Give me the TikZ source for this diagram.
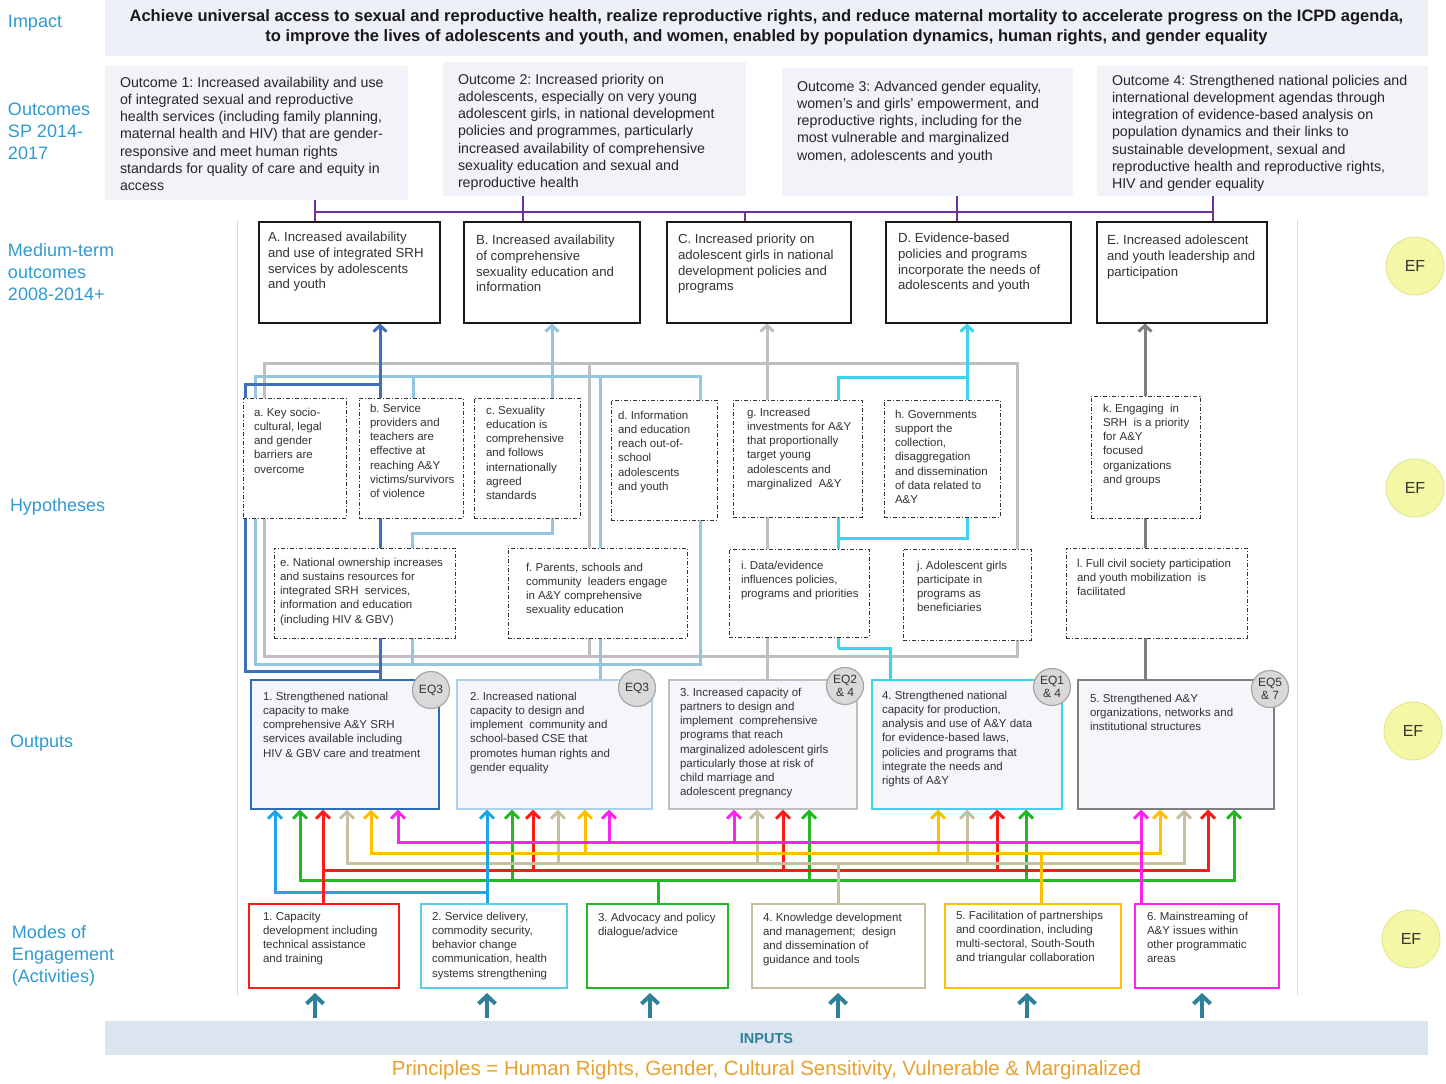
\documentclass[tikz,border=0pt]{standalone}
\usepackage{fontspec}
\setmainfont{Liberation Sans}
\usetikzlibrary{arrows.meta}
\definecolor{lbl}{HTML}{2E9AD0}
\definecolor{ibg}{HTML}{EEF0F8}
\definecolor{obg}{HTML}{F2F3F8}
\definecolor{pbg}{HTML}{F5F6FA}
\definecolor{txt}{HTML}{333333}
\definecolor{purp}{HTML}{7030A0}
\definecolor{cdb}{HTML}{3F6FB8}
\definecolor{clb}{HTML}{92C6E0}
\definecolor{cgr}{HTML}{BFBFBF}
\definecolor{ccy}{HTML}{3DD3EC}
\definecolor{cdg}{HTML}{7F7F7F}
\definecolor{oonec}{HTML}{2F6EB5}
\definecolor{otwoc}{HTML}{A9D2E8}
\definecolor{othreec}{HTML}{BFBFBF}
\definecolor{ofourc}{HTML}{3DD3EC}
\definecolor{ofivec}{HTML}{7F7F7F}
\definecolor{mblue}{HTML}{1EA5E5}
\definecolor{mgreen}{HTML}{22B822}
\definecolor{mred}{HTML}{FF1A1A}
\definecolor{mtan}{HTML}{C8BFA3}
\definecolor{mgold}{HTML}{FFC000}
\definecolor{mmag}{HTML}{FF22EE}
\definecolor{atwoc}{HTML}{5CCDE8}
\definecolor{tealc}{HTML}{2F8098}
\definecolor{inbg}{HTML}{DAE5EF}
\definecolor{princ}{HTML}{E8A030}
\definecolor{eff}{HTML}{F4F8A6}
\definecolor{efd}{HTML}{E2E890}
\definecolor{eqf}{HTML}{D9D9D9}
\definecolor{eqd}{HTML}{A6A6A6}
\newcommand\bx[6]{\node[#1, anchor=north west, minimum width={#5-#3}, minimum height={#6-#4}] (#2) at (#3,#4) {};}
\frenchspacing
\begin{document}
\frenchspacing
\begin{tikzpicture}[x=1pt,y=-1pt,
  every node/.style={inner sep=0pt, outer sep=0pt},
  lab/.style={font=\fontsize{18}{22}\selectfont, text=lbl, align=left, anchor=north west},
  outbox/.style={fill=obg, draw=none},
  otxt/.style={font=\fontsize{14.2}{17.2}\selectfont, text=black!85, align=left, anchor=north west},
  medbox/.style={draw=black!90, line width=2pt, fill=white},
  mtxt/.style={font=\fontsize{13.2}{15.8}\selectfont, text=txt, align=left, anchor=north west},
  hypbox/.style={draw=black!80, line width=0.9pt, dash pattern=on 4pt off 2pt on 1pt off 2pt, fill=white},
  htxt/.style={font=\fontsize{11.5}{14.2}\selectfont, text=txt, align=left, anchor=north west},
  outpbox/.style={line width=2pt, fill=pbg},
  actbox/.style={line width=2pt, fill=white},
  eq/.style={circle, fill=eqf, draw=eqd, line width=1.2pt, minimum size=37pt, font=\fontsize{12}{12.5}\selectfont, align=center, text=txt},
  ef/.style={circle, fill=eff, draw=efd, line width=1pt, minimum size=58pt, font=\fontsize{16}{16}\selectfont, text=txt},
  conn/.style={line width=3pt},
  arr/.style={-{Straight Barb[length=6pt,width=13pt]}},
  barr/.style={-{Straight Barb[length=7pt,width=14pt]}},
]
\useasboundingbox (0,0) rectangle (1446,1084);

% ---------- left labels
\node[lab] (lImpact) at (8,15) {Impact};
\node[lab] (lOut) at (8,103) {Outcomes\\SP 2014-\\2017};
\node[lab] (lMed) at (8,243) {Medium-term\\outcomes\\2008-2014+};
\node[lab] (lHyp) at (10,498) {Hypotheses};
\node[lab] (lOutp) at (10,735) {Outputs};
\node[lab] (lAct) at (12,925) {Modes of\\Engagement\\(Activities)};

% ---------- impact
\bx{fill=ibg}{imp}{105}{0}{1428}{56}
\node[font=\bfseries\fontsize{16.5}{20}\selectfont, align=center, anchor=north, text=black!90] (impT) at (766.5,10)
 {Achieve universal access to sexual and reproductive health, realize reproductive rights, and reduce maternal mortality to accelerate progress on the ICPD agenda,\\
  to improve the lives of adolescents and youth, and women, enabled by population dynamics, human rights, and gender equality};

% ---------- outcomes
\bx{outbox}{O1}{105}{66}{408}{200}
\bx{outbox}{O2}{443}{62}{746}{196}
\bx{outbox}{O3}{782}{68}{1073}{196}
\bx{outbox}{O4}{1097}{66}{1428}{196}
\node[otxt] (O1T) at (120,77) {Outcome 1: Increased availability and use\\of integrated sexual and reproductive\\health services (including family planning,\\maternal health and HIV) that are gender-\\responsive and meet human rights\\standards for quality of care and equity in\\access};
\node[otxt] (O2T) at (458,74) {Outcome 2: Increased priority on\\adolescents, especially on very young\\adolescent girls, in national development\\policies and programmes, particularly\\increased availability of comprehensive\\sexuality education and sexual and\\reproductive health};
\node[otxt] (O3T) at (797,81) {Outcome 3: Advanced gender equality,\\women’s and girls’ empowerment, and\\reproductive rights, including for the\\most vulnerable and marginalized\\women, adolescents and youth};
\node[otxt] (O4T) at (1112,75) {Outcome 4: Strengthened national policies and\\international development agendas through\\integration of evidence-based analysis on\\population dynamics and their links to\\sustainable development, sexual and\\reproductive health and reproductive rights,\\HIV and gender equality};

% ---------- panel frame
\draw[black!15, line width=0.8pt] (237,220) -- (237,995);
\draw[black!15, line width=0.8pt] (1297,220) -- (1297,995);

% ---------- medium-term boxes
\bx{medbox}{A}{259}{222}{440}{323}
\bx{medbox}{B}{464}{222}{640}{323}
\bx{medbox}{C}{667}{222}{851}{323}
\bx{medbox}{D}{886}{222}{1071}{323}
\bx{medbox}{E}{1097}{222}{1267}{323}

% purple connectors
\draw[purp, line width=2.5pt] (315,212) -- (1213,212);
\draw[purp, line width=2.5pt] (315,200) -- (315,222);
\draw[purp, line width=2.5pt] (523,196) -- (523,222);
\draw[purp, line width=2.5pt] (957,196) -- (957,222);
\draw[purp, line width=2.5pt] (1213,196) -- (1213,222);
\draw[purp, line width=2.5pt] (745,212) -- (745,222);

% ---------- hypothesis connectors
% grey -> C
\draw[conn,cgr] (264,363) rectangle (1017,656);
\draw[conn,cgr] (589,363) -- (589,656);
% light blue -> B
\draw[conn,clb] (255,376) rectangle (700,664);
\draw[conn,clb] (413,376) -- (413,398);
\draw[conn,clb] (600,376) -- (600,680);
\draw[conn,clb] (412,664) -- (412,630);
\draw[conn,clb] (412,556) -- (412,533) -- (552,533) -- (552,510);
% dark blue -> A
\draw[conn,cdb] (380,671) -- (245,671) -- (245,384) -- (380,384);
% cyan -> D
\draw[conn,ccy] (838,648) -- (838,377) -- (967,377);
\draw[conn,ccy] (967,510) -- (967,538) -- (838,538);
\draw[conn,ccy] (838,648) -- (890,648) -- (890,680);

% arrows to medium-term
\draw[conn,cdb,arr] (380,680) -- (380,323.5);
\draw[conn,clb,arr] (552,405) -- (552,323.5);
\draw[conn,cgr,arr] (767,680) -- (767,323.5);
\draw[conn,ccy,arr] (967,405) -- (967,323.5);
\draw[conn,cdg,arr] (1145,680) -- (1145,323.5);

% medium boxes with text
\bx{medbox}{A2}{259}{222}{440}{323}
\node[mtxt] (AT) at (268,232) {A. Increased availability\\and use of integrated SRH\\services by adolescents\\and youth};
\bx{medbox}{B2}{464}{222}{640}{323}
\node[mtxt] (BT) at (476,235) {B. Increased availability\\of comprehensive\\sexuality education and\\information};
\bx{medbox}{C2}{667}{222}{851}{323}
\node[mtxt] (CT) at (678,234) {C. Increased priority on\\adolescent girls in national\\development policies and\\programs};
\bx{medbox}{D2}{886}{222}{1071}{323}
\node[mtxt] (DT) at (898,233) {D. Evidence-based\\policies and programs\\incorporate the needs of\\adolescents and youth};
\bx{medbox}{E2}{1097}{222}{1267}{323}
\node[mtxt] (ET) at (1107,235) {E. Increased adolescent\\and youth leadership and\\participation};

% ---------- hypothesis boxes
\bx{hypbox}{ha}{243}{398}{346}{518}
\node[htxt] (haT) at (254,408) {a. Key socio-\\cultural, legal\\and gender\\barriers are\\overcome};
\bx{hypbox}{hb}{359}{398}{463}{518}
\node[htxt] (hbT) at (370,404) {b. Service\\providers and\\teachers are\\effective at\\reaching A\&Y\\victims/survivors\\of violence};
\bx{hypbox}{hc}{474}{398}{580}{518}
\node[htxt] (hcT) at (486,406) {c. Sexuality\\education is\\comprehensive\\and follows\\internationally\\agreed\\standards};
\bx{hypbox}{hd}{611}{400}{717}{520}
\node[htxt] (hdT) at (618,411) {d. Information\\and education\\reach out-of-\\school\\adolescents\\and youth};
\bx{hypbox}{hg}{733}{400}{862}{517}
\node[htxt] (hgT) at (747,408) {g. Increased\\investments for A\&Y\\that proportionally\\target young\\adolescents and\\marginalized\ \ A\&Y};
\bx{hypbox}{hh}{884}{400}{1000}{517}
\node[htxt] (hhT) at (895,410) {h. Governments\\support the\\collection,\\disaggregation\\and dissemination\\of data related to\\A\&Y};
\bx{hypbox}{hk}{1091}{396}{1200}{518}
\node[htxt] (hkT) at (1103,404) {k. Engaging\ \ in\\SRH\ \ is a priority\\for A\&Y\\focused\\organizations\\and groups};
\bx{hypbox}{he}{274}{548}{455}{638}
\node[htxt] (heT) at (280,558) {e. National ownership increases\\and sustains resources for\\integrated SRH\ \ services,\\information and education\\(including HIV \& GBV)};
\bx{hypbox}{hf}{508}{548}{687}{638}
\node[htxt] (hfT) at (526,563) {f. Parents, schools and\\community\ \ leaders engage\\in A\&Y comprehensive\\sexuality education};
\bx{hypbox}{hi}{729}{549}{869}{637}
\node[htxt] (hiT) at (741,561) {i. Data/evidence\\influences policies,\\programs and priorities};
\bx{hypbox}{hj}{903}{549}{1031}{640}
\node[htxt] (hjT) at (917,561) {j. Adolescent girls\\participate in\\programs as\\beneficiaries};
\bx{hypbox}{hl}{1066}{548}{1247}{638}
\node[htxt] (hlT) at (1077,559) {l. Full civil society participation\\and youth mobilization\ \ is\\facilitated};

% ---------- activity -> output connectors
\draw[conn,mblue,barr] (487,892) -- (275,892) -- (275,809.5);
\draw[conn,mgreen,{Straight Barb[length=7pt,width=14pt]}-{Straight Barb[length=7pt,width=14pt]}] (300,809.5) -- (300,880) -- (1234,880) -- (1234,809.5);
\foreach \x in {512,809,1026} \draw[conn,mgreen,barr] (\x,881.5) -- (\x,809.5);
\draw[conn,mgreen] (658,904) -- (658,878.5);
\draw[conn,mred,barr] (323,870) -- (1208,870) -- (1208,809.5);
\foreach \x in {533,783,997} \draw[conn,mred,barr] (\x,871.5) -- (\x,809.5);
\draw[conn,mtan,{Straight Barb[length=7pt,width=14pt]}-{Straight Barb[length=7pt,width=14pt]}] (347,809.5) -- (347,863) -- (1184,863) -- (1184,809.5);
\foreach \x in {558,757,967} \draw[conn,mtan,barr] (\x,864.5) -- (\x,809.5);
\draw[conn,mtan] (838,904) -- (838,861.5);
\draw[conn,mgold,{Straight Barb[length=7pt,width=14pt]}-{Straight Barb[length=7pt,width=14pt]}] (371,809.5) -- (371,853) -- (1160,853) -- (1160,809.5);
\foreach \x in {585,938} \draw[conn,mgold,barr] (\x,854.5) -- (\x,809.5);
\draw[conn,mgold] (1041,904) -- (1041,851.5);
\draw[conn,mmag,barr] (1141,842) -- (398,842) -- (398,809.5);
\foreach \x in {609,734} \draw[conn,mmag,barr] (\x,843.5) -- (\x,809.5);
\draw[conn,mmag,barr] (1141,904) -- (1141,809.5);
\draw[conn,mred,barr] (323,904) -- (323,809.5);
\draw[conn,mblue,barr] (487,904) -- (487,809.5);

% ---------- output boxes
\bx{outpbox,draw=oonec}{p1}{251}{680}{439}{809}
\node[htxt] (p1T) at (263,692) {1. Strengthened national\\capacity to make\\comprehensive A\&Y SRH\\services available including\\HIV \& GBV care and treatment};
\bx{outpbox,draw=otwoc}{p2}{457}{680}{652}{809}
\node[htxt] (p2T) at (470,692) {2. Increased national\\capacity to design and\\implement\ \ community and\\school-based CSE that\\promotes human rights and\\gender equality};
\bx{outpbox,draw=othreec}{p3}{669}{680}{857}{809}
\node[htxt] (p3T) at (680,688) {3. Increased capacity of\\partners to design and\\implement\ \ comprehensive\\programs that reach\\marginalized adolescent girls\\particularly those at risk of\\child marriage and\\adolescent pregnancy};
\bx{outpbox,draw=ofourc}{p4}{872}{680}{1062}{809}
\node[htxt] (p4T) at (882,691) {4. Strengthened national\\capacity for production,\\analysis and use of A\&Y data\\for evidence-based laws,\\policies and programs that\\integrate the needs and\\rights of A\&Y};
\bx{outpbox,draw=ofivec}{p5}{1078}{680}{1274}{809}
\node[htxt] (p5T) at (1090,694) {5. Strengthened A\&Y\\organizations, networks and\\institutional structures};

\node[eq] (eq1) at (431,690) {EQ3};
\node[eq] (eq2) at (637,688) {EQ3};
\node[eq] (eq3) at (845,686) {EQ2\\\& 4};
\node[eq] (eq4) at (1052,687) {EQ1\\\& 4};
\node[eq] (eq5) at (1270,689) {EQ5\\\& 7};

% ---------- activity boxes
\bx{actbox,draw=mred}{m1}{249}{904}{399}{988}
\node[htxt] (m1T) at (263,912) {1. Capacity\\development including\\technical assistance\\and training};
\bx{actbox,draw=atwoc}{m2}{421}{904}{567}{988}
\node[htxt] (m2T) at (432,912) {2. Service delivery,\\commodity security,\\behavior change\\communication, health\\systems strengthening};
\bx{actbox,draw=mgreen}{m3}{587}{904}{728}{988}
\node[htxt] (m3T) at (598,913) {3. Advocacy and policy\\dialogue/advice};
\bx{actbox,draw=mtan}{m4}{752}{904}{925}{988}
\node[htxt] (m4T) at (763,913) {4. Knowledge development\\and management;\ \ design\\and dissemination of\\guidance and tools};
\bx{actbox,draw=mgold}{m5}{945}{904}{1121}{988}
\node[htxt] (m5T) at (956,911) {5. Facilitation of partnerships\\and coordination, including\\multi-sectoral, South-South\\and triangular collaboration};
\bx{actbox,draw=mmag}{m6}{1135}{904}{1279}{988}
\node[htxt] (m6T) at (1147,912) {6. Mainstreaming of\\A\&Y issues within\\other programmatic\\areas};

% ---------- EF circles
\node[ef] (ef1) at (1415,266) {EF};
\node[ef] (ef2) at (1415,488) {EF};
\node[ef] (ef3) at (1413,731) {EF};
\node[ef] (ef4) at (1411,939) {EF};

% ---------- inputs
\bx{fill=inbg}{inp}{105}{1021}{1428}{1055}
\node[font=\bfseries\fontsize{14.5}{14.5}\selectfont, text=tealc] (inpT) at (766.5,1038) {INPUTS};
\foreach \x in {315,487,650,838,1027,1202}
  \draw[line width=4pt, tealc, -{Straight Barb[length=8pt,width=17pt]}] (\x,1018) -- (\x,993);
\node[font=\fontsize{20.5}{22}\selectfont, text=princ] (pr) at (766.5,1070) {Principles = Human Rights, Gender, Cultural Sensitivity, Vulnerable \& Marginalized};
\end{tikzpicture}
\end{document}
